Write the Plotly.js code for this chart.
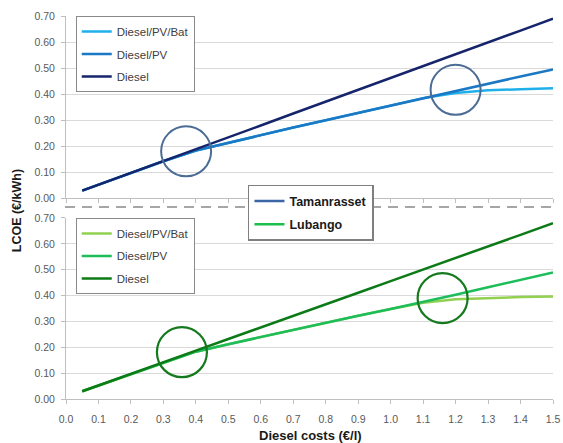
<!DOCTYPE html>
<html>
<head>
<meta charset="utf-8">
<script src="https://cdn.plot.ly/plotly-3.0.1.min.js"></script>
<style>html,body{margin:0;padding:0;background:#fff;}#chart{width:563px;height:443px;}</style>
</head>
<body>
<div id="chart"></div>
<script>
// Diesel costs (€/l)
const dieselCost = [0.05, 0.1, 0.2, 0.3, 0.4, 0.5, 0.6, 0.7, 0.8, 0.9, 1.0, 1.1, 1.2, 1.3, 1.4, 1.5];

// Tamanrasset LCOE (€/kWh)
const tamDieselPVBat = [0.030, 0.053, 0.098, 0.143, 0.184, 0.214, 0.243, 0.272, 0.300, 0.328, 0.356, 0.385, 0.405, 0.415, 0.419, 0.423];
const tamDieselPV    = [0.030, 0.053, 0.098, 0.143, 0.184, 0.214, 0.243, 0.272, 0.300, 0.328, 0.356, 0.385, 0.414, 0.442, 0.468, 0.495];
const tamDiesel      = [0.030, 0.053, 0.098, 0.144, 0.189, 0.235, 0.280, 0.326, 0.371, 0.417, 0.462, 0.508, 0.553, 0.599, 0.644, 0.690];

// Lubango LCOE (€/kWh)
const lubDieselPVBat = [0.030, 0.052, 0.097, 0.142, 0.183, 0.212, 0.240, 0.267, 0.295, 0.322, 0.348, 0.372, 0.386, 0.391, 0.394, 0.396];
const lubDieselPV    = [0.030, 0.052, 0.097, 0.142, 0.183, 0.212, 0.240, 0.267, 0.295, 0.322, 0.348, 0.375, 0.403, 0.432, 0.460, 0.489];
const lubDiesel      = [0.030, 0.052, 0.097, 0.142, 0.187, 0.232, 0.276, 0.321, 0.366, 0.411, 0.456, 0.500, 0.545, 0.590, 0.635, 0.680];

// Highlight circles (break-even points)
const tamCircleX = [0.37, 1.20];
const tamCircleY = [0.181, 0.417];
const lubCircleX = [0.357, 1.16];
const lubCircleY = [0.181, 0.39];

const seriesNames = ['Diesel/PV/Bat', 'Diesel/PV', 'Diesel'];
const siteNames = ['Tamanrasset', 'Lubango'];
const xTitle = 'Diesel costs (€/l)';
const yTitle = 'LCOE (€/kWh)';

const FONT = 'Liberation Sans, Arial, sans-serif';
const tamColors = ['#1fb0ea', '#1a78c4', '#16256b'];
const lubColors = ['#92d050', '#1dbd5a', '#0c7a16'];
const siteColors = ['#3b65a5', '#1cbf4a'];

const tamSeries = [tamDieselPVBat, tamDieselPV, tamDiesel];
const lubSeries = [lubDieselPVBat, lubDieselPV, lubDiesel];

const data = [];
tamSeries.forEach((ys, i) => {
  data.push({
    x: dieselCost, y: ys, type: 'scatter', mode: 'lines', name: seriesNames[i],
    xaxis: 'x2', yaxis: 'y2', legend: 'legend', legendgroup: 't' + i,
    line: {color: tamColors[i], width: 2.5}, hoverinfo: 'skip'
  });
});
lubSeries.forEach((ys, i) => {
  data.push({
    x: dieselCost, y: ys, type: 'scatter', mode: 'lines', name: seriesNames[i],
    xaxis: 'x', yaxis: 'y', legend: 'legend2', legendgroup: 'l' + i,
    line: {color: lubColors[i], width: 2.5}, hoverinfo: 'skip'
  });
});
siteNames.forEach((nm, i) => {
  data.push({
    x: [null], y: [null], type: 'scatter', mode: 'lines', name: nm,
    xaxis: 'x', yaxis: 'y', legend: 'legend3', legendgroup: 's' + i,
    line: {color: siteColors[i], width: 2.5}, hoverinfo: 'skip'
  });
});

const shapes = [];
tamCircleX.forEach((cx, i) => {
  shapes.push({type: 'circle', xref: 'x2', yref: 'y2', xsizemode: 'pixel', ysizemode: 'pixel',
    xanchor: cx, yanchor: tamCircleY[i], x0: -25, x1: 25, y0: -25, y1: 25,
    line: {color: '#4b6c94', width: 2}, layer: 'above'});
});
lubCircleX.forEach((cx, i) => {
  shapes.push({type: 'circle', xref: 'x', yref: 'y', xsizemode: 'pixel', ysizemode: 'pixel',
    xanchor: cx, yanchor: lubCircleY[i], x0: -25, x1: 25, y0: -25, y1: 25,
    line: {color: '#157a1d', width: 2.2}, layer: 'above'});
});
shapes.push({type: 'line', xref: 'paper', yref: 'paper', x0: -0.002, x1: 1.006, y0: 0.5013, y1: 0.5013,
  line: {color: '#a6a6a6', width: 2, dash: '10px,7px'}, layer: 'above'});

const tickFont = {family: FONT, size: 10.5, color: '#595959'};
const yCommon = {
  range: [0, 0.7], dtick: 0.1, tick0: 0, tickformat: '.2f', fixedrange: true,
  showgrid: true, gridcolor: '#d9d9d9', gridwidth: 1, zeroline: false,
  showline: true, linecolor: '#bfbfbf', linewidth: 1,
  ticks: 'outside', ticklen: 4, tickcolor: '#bfbfbf', tickfont: tickFont, ticklabelstandoff: 4
};
const xCommon = {
  range: [0, 1.5], dtick: 0.1, tick0: 0, tickformat: '.1f', fixedrange: true,
  showgrid: false, zeroline: false, showline: true, linecolor: '#bfbfbf', linewidth: 1,
  ticks: 'outside', ticklen: 4, tickcolor: '#bfbfbf', tickfont: tickFont, ticklabelstandoff: 6
};

const legendCommon = {
  bgcolor: '#ffffff', bordercolor: '#8a8a8a', borderwidth: 1,
  font: {family: FONT, size: 11.5, color: '#404040'},
  traceorder: 'grouped', tracegroupgap: 3.5, xanchor: 'left', yanchor: 'top', orientation: 'v'
};

const layout = {
  width: 563, height: 443,
  margin: {l: 66, r: 10, t: 16, b: 44},
  paper_bgcolor: '#ffffff', plot_bgcolor: '#ffffff',
  showlegend: true,
  font: {family: FONT},
  xaxis: Object.assign({}, xCommon, {anchor: 'y', domain: [0, 1]}),
  xaxis2: Object.assign({}, xCommon, {anchor: 'y2', domain: [0, 1], showticklabels: false}),
  yaxis: Object.assign({}, yCommon, {anchor: 'x', domain: [0, 0.4726]}),
  yaxis2: Object.assign({}, yCommon, {anchor: 'x2', domain: [0.5235, 1]}),
  legend: Object.assign({}, legendCommon, {x: 0.02, y: 1.0}),
  legend2: Object.assign({}, legendCommon, {x: 0.02, y: 0.4726}),
  legend3: Object.assign({}, legendCommon, {
    x: 0.503, y: 0.559, xanchor: 'center', bordercolor: '#7f7f7f', borderwidth: 1.5,
    tracegroupgap: 4, font: {family: FONT, size: 12.5, color: '#1a1a1a', weight: 'bold'}
  }),
  shapes: shapes,
  annotations: [
    {text: xTitle, xref: 'paper', yref: 'paper', x: 0.503, y: -0.094, xanchor: 'center', yanchor: 'middle',
     showarrow: false, font: {family: FONT, size: 13, color: '#1a1a1a', weight: 'bold'}},
    {text: yTitle, xref: 'paper', yref: 'paper', x: -0.1, y: 0.491, xanchor: 'center', yanchor: 'middle',
     textangle: -90, showarrow: false, font: {family: FONT, size: 12.5, color: '#1a1a1a', weight: 'bold'}}
  ]
};

Plotly.newPlot('chart', data, layout, {staticPlot: true, displayModeBar: false});
</script>
</body>
</html>
